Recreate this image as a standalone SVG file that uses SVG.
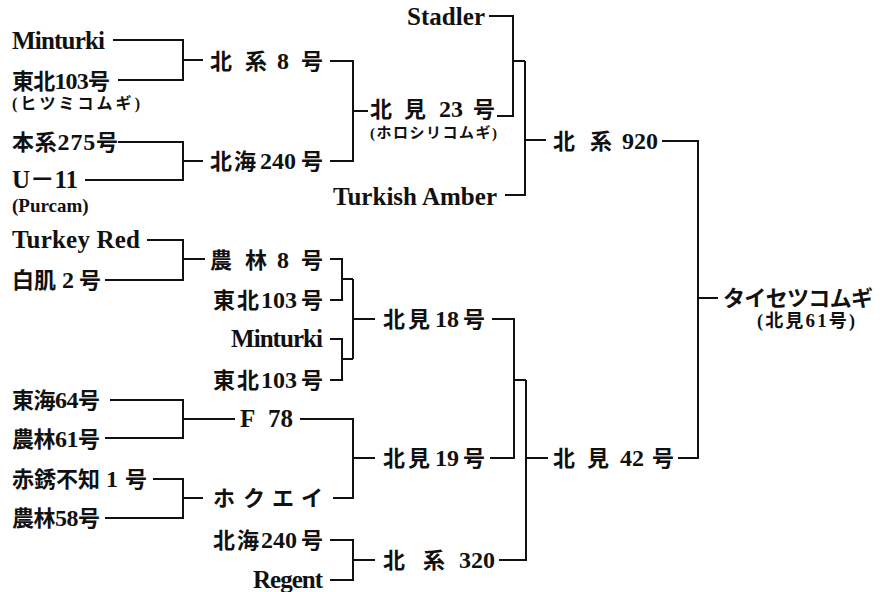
<svg xmlns="http://www.w3.org/2000/svg" width="889" height="592" viewBox="0 0 889 592">
  <style>
    .lbl { font-family: "Liberation Serif", "Noto Sans CJK JP", serif; font-size: 22px; font-weight: bold; fill: #111; }
    .lat { font-size: 25px; }
    .d { font-size: 24px; }
    .sub { font-family: "Liberation Serif", "Noto Sans CJK JP", serif; font-size: 16px; font-weight: bold; fill: #111; }
    .end { text-anchor: end; }
    .wire { fill: none; stroke: #111; stroke-width: 2; }
  </style>
  <rect width="889" height="592" fill="#fff"/>

  <!-- pedigree brackets -->
  <g id="connectors" class="wire">
    <path d="M113 40H183V80H118M183 60H203"/>
    <path d="M118 142H183V180H85M183 161H203"/>
    <path d="M330 61H353V161H330M353 111H368"/>
    <path d="M489 16H513V116H497M513 61H525"/>
    <path d="M525 61V195H505M525 140H546"/>
    <path d="M662 141H698V458H678M698 298H718"/>
    <path d="M147 240H183V280H105M183 259H205"/>
    <path d="M330 259H342V300H330M342 279H353"/>
    <path d="M330 339H342V380H330M342 359H353"/>
    <path d="M353 279V359M353 319H375"/>
    <path d="M492 319H514V458H490M514 380H526"/>
    <path d="M526 380V560H499M526 458H548"/>
    <path d="M110 400H183V438H105M183 419H235"/>
    <path d="M300 419H353V498H333M353 458H375"/>
    <path d="M153 479H183V518H105M183 498H203"/>
    <path d="M330 540H353V580H330M353 560H375"/>
  </g>

  <!-- first generation (left column) -->
  <g id="n_minturki1"><text class="lbl lat" x="12" y="49" textLength="93">Minturki</text></g>
  <g id="n_tohoku103_1">
    <text class="lbl" x="12" y="89" textLength="98">東北<tspan class="d">103</tspan>号</text>
    <text class="sub" x="12" y="109" textLength="128">(ヒツミコムギ)</text>
  </g>
  <g id="n_honkei275"><text class="lbl" x="12" y="150" textLength="106">本系<tspan class="d">275</tspan>号</text></g>
  <g id="n_u11">
    <text class="lbl lat" x="12" y="188" textLength="66">U－11</text>
    <text class="sub" x="12" y="212" style="font-size:19px">(Purcam)</text>
  </g>
  <g id="n_turkeyred"><text class="lbl lat" x="12" y="248" textLength="128">Turkey Red</text></g>
  <g id="n_hakuki2"><text class="lbl" y="288"><tspan x="12">白肌</tspan><tspan class="d" x="62">2</tspan><tspan x="79">号</tspan></text></g>
  <g id="n_tokai64"><text class="lbl" x="12" y="408" textLength="88">東海<tspan class="d">64</tspan>号</text></g>
  <g id="n_norin61"><text class="lbl" x="12" y="447" textLength="88">農林<tspan class="d">61</tspan>号</text></g>
  <g id="n_akasabi1"><text class="lbl" y="487"><tspan x="12">赤銹不知</tspan><tspan class="d" x="106">1</tspan><tspan x="125">号</tspan></text></g>
  <g id="n_norin58"><text class="lbl" x="12" y="526" textLength="88">農林<tspan class="d">58</tspan>号</text></g>

  <!-- second column -->
  <g id="n_hokkei8"><text class="lbl" y="69"><tspan x="210">北</tspan><tspan x="245">系</tspan><tspan class="d" x="277">8</tspan><tspan x="301">号</tspan></text></g>
  <g id="n_hokkai240a"><text class="lbl" y="169"><tspan x="210">北</tspan><tspan x="234">海</tspan><tspan class="d" x="260">240</tspan><tspan x="301">号</tspan></text></g>
  <g id="n_norin8"><text class="lbl" y="268"><tspan x="210">農</tspan><tspan x="245">林</tspan><tspan class="d" x="277">8</tspan><tspan x="301">号</tspan></text></g>
  <g id="n_tohoku103_2"><text class="lbl" y="308"><tspan x="213">東</tspan><tspan x="237">北</tspan><tspan class="d" x="261">103</tspan><tspan x="301">号</tspan></text></g>
  <g id="n_minturki2"><text class="lbl lat end" x="323" y="347" textLength="92">Minturki</text></g>
  <g id="n_tohoku103_3"><text class="lbl" y="388"><tspan x="213">東</tspan><tspan x="237">北</tspan><tspan class="d" x="261">103</tspan><tspan x="301">号</tspan></text></g>
  <g id="n_f78"><text class="lbl lat" y="427"><tspan x="240">F</tspan><tspan x="268">78</tspan></text></g>
  <g id="n_hokuei"><text class="lbl" y="506"><tspan x="213">ホ</tspan><tspan x="243">ク</tspan><tspan x="272">エ</tspan><tspan x="301">イ</tspan></text></g>
  <g id="n_hokkai240b"><text class="lbl" y="548"><tspan x="213">北</tspan><tspan x="237">海</tspan><tspan class="d" x="261">240</tspan><tspan x="301">号</tspan></text></g>
  <g id="n_regent"><text class="lbl lat end" x="323" y="588" textLength="70">Regent</text></g>

  <!-- third column -->
  <g id="n_stadler"><text class="lbl lat end" x="485" y="25" textLength="78">Stadler</text></g>
  <g id="n_kitami23">
    <text class="lbl" y="117"><tspan x="370">北</tspan><tspan x="404">見</tspan><tspan class="d" x="439">23</tspan><tspan x="473">号</tspan></text>
    <text class="sub" x="370" y="138" style="font-size:15px" textLength="127">(ホロシリコムギ)</text>
  </g>
  <g id="n_turkishamber"><text class="lbl lat end" x="497" y="205" textLength="164">Turkish Amber</text></g>
  <g id="n_kitami18"><text class="lbl" y="327"><tspan x="383">北</tspan><tspan x="408">見</tspan><tspan class="d" x="435">18</tspan><tspan x="463">号</tspan></text></g>
  <g id="n_kitami19"><text class="lbl" y="466"><tspan x="383">北</tspan><tspan x="408">見</tspan><tspan class="d" x="435">19</tspan><tspan x="463">号</tspan></text></g>
  <g id="n_hokkei320"><text class="lbl" y="568"><tspan x="383">北</tspan><tspan x="423">系</tspan><tspan class="d" x="459">320</tspan></text></g>

  <!-- fourth column -->
  <g id="n_hokkei920"><text class="lbl" y="149"><tspan x="553">北</tspan><tspan x="590">系</tspan><tspan class="d" x="622">920</tspan></text></g>
  <g id="n_kitami42"><text class="lbl" y="466"><tspan x="553">北</tspan><tspan x="587">見</tspan><tspan class="d" x="620">42</tspan><tspan x="652">号</tspan></text></g>

  <!-- cultivar -->
  <g id="n_taisetsu">
    <text class="lbl" x="723" y="306" textLength="150">タイセツコムギ</text>
    <text class="sub" x="757" y="327" style="font-size:18px" textLength="98">(北見<tspan class="d" style="font-size:19px">61</tspan>号)</text>
  </g>
</svg>
